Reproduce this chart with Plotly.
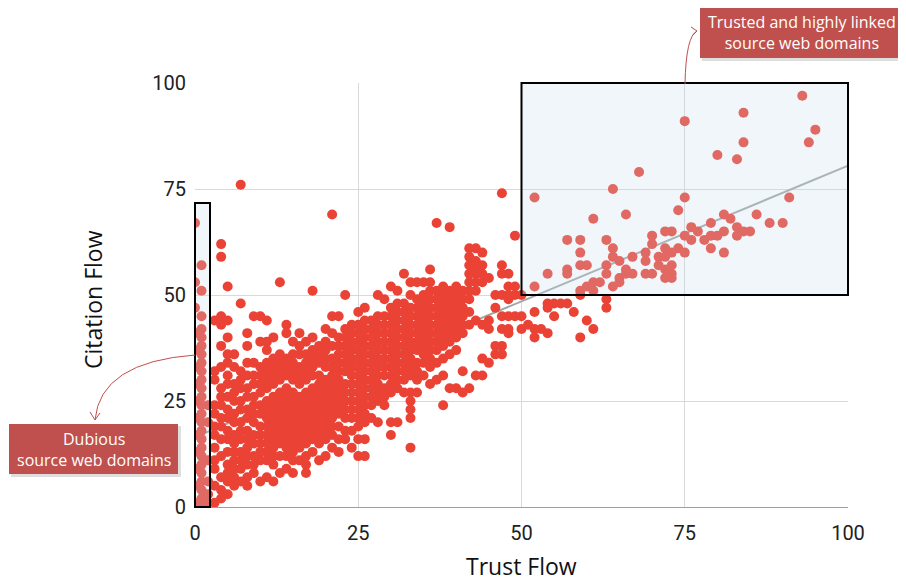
import plotly.graph_objects as go

# Citation Flow values for each integer Trust Flow value
cf_by_tf = {
    0: [67, 53, 47, 41, 37, 33, 29, 25, 21, 17, 13, 9, 5, 1],
    1: [57, 51, 45, 42, 40, 38, 36, 34, 32, 30, 28, 26, 24, 22, 20, 18, 16, 14, 12, 10, 8, 6, 4, 2, 0],
    2: [24, 20, 11, 6, 3, 1],
    3: [44, 32, 30, 24, 22, 19, 17, 14, 11, 9, 5, 1],
    4: [62, 59, 45, 43, 38, 33, 28, 26, 24, 21, 19, 16, 12, 7, 4, 2],
    5: [52, 44, 40, 36, 34, 31, 29, 26, 23, 21, 18, 16, 13, 10, 8, 6, 3],
    6: [36, 33, 29, 27, 25, 22, 20, 17, 15, 13, 11, 9, 7, 5],
    7: [76, 48, 32, 30, 28, 25, 23, 20, 18, 16, 13, 11, 9, 6],
    8: [41, 38, 34, 31, 28, 26, 23, 21, 18, 16, 14, 12, 10, 7, 5],
    9: [45, 34, 31, 29, 26, 24, 22, 20, 17, 15, 12, 10, 8],
    10: [45, 39, 33, 31, 29, 27, 24, 22, 19, 17, 15, 13, 11, 6],
    11: [44, 39, 37, 34, 32, 30, 28, 25, 23, 21, 19, 17, 15, 13, 11, 7],
    12: [40, 35, 33, 31, 29, 26, 24, 22, 20, 18, 16, 14, 12, 10, 6],
    13: [53, 36, 34, 32, 30, 27, 25, 23, 21, 19, 17, 15, 12, 8],
    14: [43, 41, 35, 33, 31, 28, 26, 24, 22, 20, 18, 16, 14, 12, 9],
    15: [39, 36, 34, 32, 30, 27, 25, 23, 21, 19, 17, 15, 13, 11, 8],
    16: [41, 38, 36, 33, 31, 29, 26, 24, 22, 20, 18, 16, 14, 11],
    17: [39, 36, 34, 32, 30, 27, 25, 23, 21, 19, 17, 15, 12, 10, 8],
    18: [51, 40, 37, 35, 33, 31, 28, 26, 24, 22, 20, 18, 16, 13],
    19: [38, 36, 34, 31, 29, 27, 25, 23, 21, 19, 17, 15, 11],
    20: [42, 39, 37, 35, 33, 30, 28, 26, 24, 22, 20, 18, 16, 12],
    21: [69, 45, 41, 38, 35, 33, 31, 29, 27, 25, 23, 21, 19, 17, 14],
    22: [45, 40, 38, 36, 34, 32, 30, 28, 26, 24, 22, 19, 16, 13],
    23: [50, 42, 40, 38, 36, 34, 32, 29, 27, 25, 23, 21, 18, 16],
    24: [43, 41, 39, 37, 35, 33, 31, 29, 27, 25, 23, 21, 18, 14],
    25: [46, 43, 41, 39, 37, 35, 33, 31, 29, 27, 25, 23, 21, 19, 16, 12],
    26: [47, 44, 42, 40, 38, 36, 34, 32, 30, 28, 26, 24, 22, 20, 16, 12],
    27: [44, 42, 40, 38, 36, 34, 32, 30, 28, 26, 24, 21],
    28: [50, 45, 43, 41, 39, 37, 35, 33, 31, 29, 27, 25, 20],
    29: [49, 45, 43, 41, 39, 37, 35, 33, 31, 28, 26, 24],
    30: [52, 47, 45, 43, 41, 39, 37, 35, 33, 31, 29, 27, 20, 17],
    31: [51, 48, 46, 44, 42, 40, 38, 36, 34, 32, 30, 28, 20],
    32: [55, 48, 46, 44, 42, 40, 38, 36, 34, 32, 30, 27],
    33: [53, 50, 47, 45, 43, 41, 39, 37, 35, 33, 31, 27, 25, 23, 21, 14],
    34: [53, 49, 47, 45, 43, 41, 39, 37, 34, 32, 30, 27],
    35: [53, 50, 48, 46, 44, 42, 40, 38, 36, 34, 31],
    36: [56, 53, 51, 49, 47, 45, 43, 41, 39, 37, 35, 33, 29],
    37: [67, 51, 49, 47, 45, 43, 41, 39, 37, 34, 30],
    38: [52, 50, 48, 46, 44, 42, 40, 38, 35, 31, 24],
    39: [66, 51, 49, 47, 45, 43, 41, 39, 36, 28],
    40: [52, 50, 48, 46, 44, 42, 40, 37, 28],
    41: [51, 49, 47, 45, 43, 41, 32, 27],
    42: [61, 59, 57, 55, 53, 51, 49, 46, 43, 28],
    43: [61, 58, 56, 55, 53, 51, 44, 31],
    44: [60, 57, 55, 53, 43, 35, 31],
    45: [54, 44, 42, 34],
    46: [50, 47, 38, 36],
    47: [74, 57, 55, 50, 45, 42, 38, 36],
    48: [55, 52, 50, 49, 45, 42, 41],
    49: [64, 52, 50, 45],
    50: [50, 45, 42],
    51: [43],
    52: [73, 52, 46, 42, 40],
    53: [42],
    54: [55, 48, 47, 41],
    55: [48, 45],
    56: [48],
    57: [63, 56, 55, 48],
    58: [46],
    59: [63, 60, 57, 51, 50, 40],
    60: [57, 52, 44],
    61: [68, 53, 51, 42],
    62: [53],
    63: [63, 57, 55, 49, 47],
    64: [75, 61, 59, 52],
    65: [58, 54, 53],
    66: [69, 56, 55],
    67: [59, 55],
    68: [79],
    69: [60, 58, 55],
    70: [64, 62, 55],
    71: [59, 57],
    72: [65, 61, 59, 56, 54],
    73: [65, 60, 57, 55, 54],
    74: [70, 61],
    75: [91, 73, 64, 60],
    76: [66, 63],
    77: [65],
    78: [63],
    79: [67, 64, 61],
    80: [83, 64],
    81: [69, 65, 60],
    82: [68],
    83: [82, 66, 64],
    84: [93, 86, 65],
    85: [65],
    86: [69],
    88: [67],
    90: [67],
    91: [73],
    93: [97],
    94: [86],
    95: [89],
}

trend_tf = [0, 100]
trend_cf = [16.5, 80.5]
tick_vals = [0, 25, 50, 75, 100]
tick_text = ["0", "25", "50", "75", "100"]

trust_flow, citation_flow = [], []
for t, cfs in cf_by_tf.items():
    for c in cfs:
        trust_flow.append(t)
        citation_flow.append(c)

# page is rendered with an 8px body margin, so the figure is offset by 8px
OFF = 8
W, H = 906 - OFF, 582 - OFF
# plot area in page pixels: x 195..848, y 83..507
L, R, T, B = 195, 848, 83, 507
def px(p):
    return (p - L) / (R - L)
def py(p):
    return (B - p) / (B - T)

fig = go.Figure()
fig.add_trace(go.Scatter(x=trend_tf, y=trend_cf, mode="lines",
                         line=dict(color="#a0a8a8", width=2), hoverinfo="skip"))
fig.add_trace(go.Scatter(x=trust_flow, y=citation_flow, mode="markers",
                         marker=dict(color="#EA4335", size=10, line=dict(width=0))))

box_fill = "rgba(200,220,240,0.25)"
red_box = "#C0504D"
shapes = [
    dict(type="rect", xref="paper", yref="paper", x0=px(195), x1=px(210), y0=py(507), y1=py(203),
         line=dict(color="black", width=2), fillcolor=box_fill, layer="above"),
    dict(type="rect", xref="paper", yref="paper", x0=0.5, x1=1.0, y0=0.5, y1=1.0,
         line=dict(color="black", width=2), fillcolor=box_fill, layer="above"),
    # text box shadows
    dict(type="rect", xref="paper", yref="paper", x0=px(702), x1=px(906), y0=py(61), y1=py(9),
         line=dict(width=0), fillcolor="rgba(0,0,0,0.13)", layer="above"),
    dict(type="rect", xref="paper", yref="paper", x0=px(11), x1=px(181), y0=py(477), y1=py(426),
         line=dict(width=0), fillcolor="rgba(0,0,0,0.13)", layer="above"),
    # text boxes
    dict(type="rect", xref="paper", yref="paper", x0=px(700), x1=px(903), y0=py(58), y1=py(7),
         line=dict(width=0), fillcolor=red_box, layer="above"),
    dict(type="rect", xref="paper", yref="paper", x0=px(9), x1=px(178), y0=py(474), y1=py(424),
         line=dict(width=0), fillcolor=red_box, layer="above"),
]

def path(cmds):
    out = []
    for c in cmds:
        if isinstance(c, str):
            out.append(c)
        else:
            out.append(f"{px(c[0]):.5f},{py(c[1]):.5f}")
    return " ".join(out)

arrow_line = dict(color=red_box, width=1)
shapes += [
    dict(type="path", xref="paper", yref="paper", layer="above", line=arrow_line,
         path=path(["M", (685, 84), "Q", (686, 36), (697, 31)])),
    dict(type="path", xref="paper", yref="paper", layer="above", line=arrow_line,
         path=path(["M", (691, 27), "L", (697, 31), "L", (692, 36)])),
    dict(type="path", xref="paper", yref="paper", layer="above", line=arrow_line,
         path=path(["M", (195, 355), "Q", (100, 362), (95, 420)])),
    dict(type="path", xref="paper", yref="paper", layer="above", line=arrow_line,
         path=path(["M", (90, 412), "L", (95, 420), "L", (100, 413)])),
]

label_font = dict(family="Open Sans, Noto Sans, sans-serif", size=16, color="white")
title_font = dict(family="Open Sans, Noto Sans, sans-serif", size=23, color="#111111")
annotations = [
    dict(xref="paper", yref="paper", x=px(801.5), y=py(32.5), showarrow=False,
         text="Trusted and highly linked<br>source web domains", font=label_font,
         xanchor="center", yanchor="middle"),
    dict(xref="paper", yref="paper", x=px(93.5), y=py(449), showarrow=False,
         text="Dubious<br>source web domains", font=label_font,
         xanchor="center", yanchor="middle"),
    dict(xref="paper", yref="paper", x=0.5, y=py(566), showarrow=False,
         text="Trust Flow", font=title_font, xanchor="center", yanchor="middle"),
    dict(xref="paper", yref="paper", x=px(93), y=py(300), showarrow=False,
         text="Citation Flow", font=title_font, textangle=-90,
         xanchor="center", yanchor="middle"),
]

tick_font = dict(family="Roboto, sans-serif", size=20, color="#212121")
axis_common = dict(range=[0, 100], tickvals=tick_vals, ticktext=tick_text,
                   showgrid=True, gridcolor="#d9d9d9", gridwidth=1, zeroline=False,
                   ticks="", tickfont=tick_font, fixedrange=True)

fig.update_layout(
    width=W, height=H,
    margin=dict(l=L - OFF, r=W - (R - OFF), t=T - OFF, b=H - (B - OFF), autoexpand=False),
    paper_bgcolor="white", plot_bgcolor="white",
    showlegend=False,
    xaxis=dict(**axis_common, showline=True, linecolor="#9e9e9e", linewidth=1,
               ticklabelstandoff=8),
    yaxis=dict(**axis_common, showline=False, ticklabelstandoff=8),
    shapes=shapes, annotations=annotations,
)

fig.write_html("out.html")
